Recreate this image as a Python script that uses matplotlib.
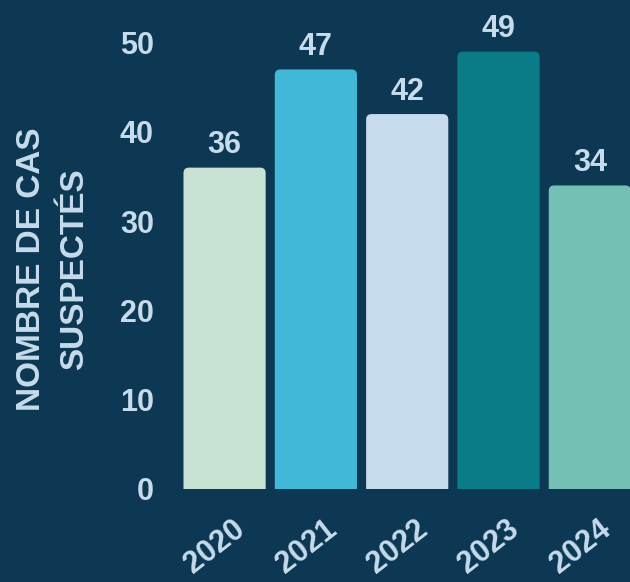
import matplotlib
matplotlib.use("Agg")
import matplotlib.pyplot as plt
import matplotlib.transforms as mtransforms
from matplotlib.patches import FancyBboxPatch

years = ["2020", "2021", "2022", "2023", "2024"]
cases = [36, 47, 42, 49, 34]
colors = ["#c8e3d4", "#41b8d8", "#c6dbec", "#0a7c88", "#74c0b5"]

bg = "#0d3853"
txt = "#c6dbec"

plt.rcParams["font.family"] = ["Liberation Sans", "DejaVu Sans"]
fs = 22
wt = "bold"

fig = plt.figure(figsize=(6.3, 5.82), dpi=100)
fig.patch.set_facecolor(bg)
ax = fig.add_axes([0.284, 0.160, 0.716, 0.828])
ax.set_facecolor(bg)

x = list(range(len(years)))
bars = ax.bar(x, cases, width=0.9, color=colors)
ax.set_xlim(-0.5, 4.44)
ax.set_ylim(0, 54)

# rounded tops: swap each bar for a rounded box
aspect = (91.4 / 1.0) / (89.3 / 10.0)
for rect, c in zip(bars, colors):
    rect.set_visible(False)
    box = FancyBboxPatch((rect.get_x(), -2), rect.get_width(), rect.get_height() + 2,
                         boxstyle="round,pad=0,rounding_size=0.06",
                         mutation_aspect=aspect, facecolor=c, edgecolor="none")
    ax.add_patch(box)
    ax.text(rect.get_x() + rect.get_width() / 2, rect.get_height() + 0.8, str(rect.get_height()),
            ha="center", va="bottom", color=txt, fontsize=fs, fontweight=wt)

for s in ax.spines.values():
    s.set_visible(False)

ax.set_yticks([0, 10, 20, 30, 40, 50])
ax.tick_params(axis="y", length=0, pad=18, labelsize=fs, labelcolor=txt)
for lab in ax.get_yticklabels():
    lab.set_fontweight(wt)

ax.set_xticks(x)
ax.set_xticklabels(years, rotation=38, ha="right", rotation_mode="anchor",
                   fontsize=fs, fontweight=wt, color=txt)
ax.tick_params(axis="x", length=0, pad=18)
offset = mtransforms.ScaledTranslation(8 / 100, 0, fig.dpi_scale_trans)
for lab in ax.get_xticklabels():
    lab.set_transform(lab.get_transform() + offset)

ax.set_ylabel("NOMBRE DE CAS\nSUSPECTÉS", fontsize=24, fontweight=wt, color=txt,
              linespacing=1.5, va="center")
ax.yaxis.set_label_coords(-0.28, 0.455)

fig.savefig("out.png", dpi=100, facecolor=bg)
